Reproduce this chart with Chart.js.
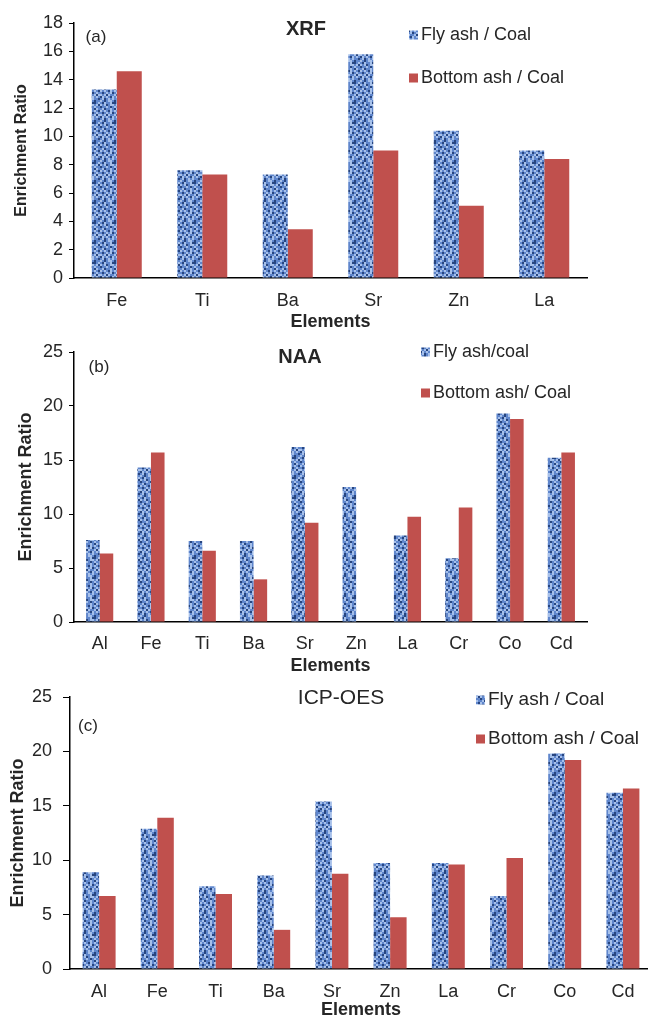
<!DOCTYPE html>
<html>
<head>
<meta charset="utf-8">
<script src="https://cdn.jsdelivr.net/npm/chart.js@4"></script>
<style>
  html, body { margin: 0; padding: 0; background: #fff; }
  body { width: 648px; height: 1016px; overflow: hidden; position: relative; }
  canvas { position: absolute; left: 0; }
</style>
</head>
<body>
<canvas id="xrf" width="648" height="340" style="top:0px"></canvas>
<canvas id="naa" width="648" height="350" style="top:335px"></canvas>
<canvas id="icp" width="660" height="360" style="top:672px"></canvas>
<script>
// --- data ---
const xrfElements = ['Fe', 'Ti', 'Ba', 'Sr', 'Zn', 'La'];
const xrfFly = [13.3, 7.6, 7.3, 15.8, 10.4, 9.0];
const xrfBottom = [14.6, 7.3, 3.45, 9.0, 5.1, 8.4];

const naaElements = ['Al', 'Fe', 'Ti', 'Ba', 'Sr', 'Zn', 'La', 'Cr', 'Co', 'Cd'];
const naaFly = [7.6, 14.3, 7.5, 7.5, 16.2, 12.5, 8.0, 5.9, 19.3, 15.2];
const naaBottom = [6.35, 15.7, 6.6, 3.95, 9.2, null, 9.75, 10.6, 18.8, 15.7];

const icpElements = ['Al', 'Fe', 'Ti', 'Ba', 'Sr', 'Zn', 'La', 'Cr', 'Co', 'Cd'];
const icpFly = [8.9, 12.9, 7.6, 8.6, 15.4, 9.75, 9.75, 6.7, 19.8, 16.2];
const icpBottom = [6.7, 13.9, 6.9, 3.6, 8.75, 4.75, 9.6, 10.2, 19.2, 16.6];

const xrfTicks = { max: 18, step: 2 };
const naaTicks = { max: 25, step: 5 };
const icpTicks = { max: 25, step: 5 };

const FONT = "'Liberation Sans', Arial, sans-serif";
const INK = '#262626';
const RED = '#c0504d';

// mottled blue fill for the fly ash bars (fixed tile, no randomness)
function flyPattern() {
  const rows = [
    '.-#-..-#--',
    '-#.--.##-.',
    '.-.#-..-.#',
    '#--.-#-.--',
    '-.#--.-#.-',
    '.-.-#.-.-#',
    '-#-.-.#-.-',
    '.-.#.--.#.',
    '#.-.-#.-.-',
    '-.#-.-.--#',
  ];
  const col = { '.': '#a6c0ea', '-': '#5f86cc', '#': '#27457f' };
  const c = document.createElement('canvas');
  c.width = 20; c.height = 20;
  const g = c.getContext('2d');
  rows.forEach((r, y) => {
    for (let x = 0; x < r.length; x++) {
      g.fillStyle = col[r[x]];
      g.fillRect(x * 2, y * 2, 2, 2);
    }
  });
  return g.createPattern(c, 'repeat');
}

// title, panel tag and legend drawn inside the plot area
const panelText = {
  id: 'panelText',
  afterDraw(chart, args, o) {
    const ctx = chart.ctx;
    ctx.save();
    ctx.fillStyle = INK;
    ctx.textBaseline = 'middle';
    ctx.textAlign = 'center';
    ctx.font = o.titleFont;
    ctx.fillText(o.title, o.titleX, o.titleY);
    ctx.font = o.tagFont;
    ctx.fillText(o.tag, o.tagX, o.tagY);
    ctx.textAlign = 'left';
    ctx.font = o.legendFont;
    chart.data.datasets.forEach((ds, i) => {
      const y = o.legendY[i];
      ctx.fillStyle = ds.backgroundColor;
      ctx.fillRect(o.legendX - o.box - 3, y - o.box / 2, o.box, o.box);
      ctx.fillStyle = INK;
      ctx.fillText(ds.label, o.legendX, y);
    });
    ctx.restore();
  }
};

function makeChart(id, g) {
  const canvas = document.getElementById(id);
  const top = g.canvasTop;
  const pattern = flyPattern();
  return new Chart(canvas, {
    type: 'bar',
    data: {
      labels: g.labels,
      datasets: [
        { label: g.legend[0], data: g.fly, backgroundColor: pattern,
          categoryPercentage: g.catPct, barPercentage: 1 },
        { label: g.legend[1], data: g.bottom, backgroundColor: RED,
          categoryPercentage: g.catPct, barPercentage: 1 },
      ],
    },
    options: {
      responsive: false,
      animation: false,
      layout: {
        padding: { left: 0, top: g.area.top - top, right: canvas.width - g.area.right, bottom: 0 },
      },
      plugins: {
        legend: { display: false },
        tooltip: { enabled: false },
        panelText: {
          title: g.title, titleFont: g.titleFont, titleX: g.titleX, titleY: g.titleY - top,
          tag: g.tag, tagFont: g.tagFont, tagX: g.tagX, tagY: g.tagY - top,
          legendFont: g.legendFont, legendX: g.legendX,
          legendY: g.legendY.map((v) => v - top), box: 9,
        },
      },
      scales: {
        x: {
          grid: { display: false, drawTicks: false },
          border: { color: '#000', width: 1.5 },
          ticks: { color: INK, padding: g.xPad, font: { family: FONT, size: 18 } },
          title: {
            display: true, text: 'Elements', color: INK,
            font: { family: FONT, size: 18, weight: 'bold' },
            padding: { top: 0, bottom: (top + canvas.height) - g.elementsY - 10.8 },
          },
          afterFit: (s) => { s.height = (top + canvas.height) - g.area.bottom; },
        },
        y: {
          min: 0, max: g.ticks.max,
          grid: { drawOnChartArea: false, drawTicks: true, tickLength: g.tickLen, color: '#000' },
          border: { color: '#000', width: 1.5 },
          ticks: { stepSize: g.ticks.step, color: INK, padding: g.yPad, font: { family: FONT, size: 18 } },
          title: {
            display: true, text: 'Enrichment Ratio', color: INK,
            font: { family: FONT, size: g.yTitleSize, weight: 'bold' },
            padding: { top: g.yTitleX - g.yTitleSize * 0.6, bottom: 0 },
          },
          afterFit: (s) => { s.width = g.area.left; },
        },
      },
    },
    plugins: [panelText],
  });
}

makeChart('xrf', {
  canvasTop: 0, area: { left: 74, right: 587, top: 23, bottom: 278 },
  labels: xrfElements, fly: xrfFly, bottom: xrfBottom, ticks: xrfTicks,
  legend: ['Fly ash / Coal', 'Bottom ash / Coal'], catPct: 0.585,
  title: 'XRF', titleFont: 'bold 20px ' + FONT, titleX: 306, titleY: 29,
  tag: '(a)', tagFont: '17px ' + FONT, tagX: 96, tagY: 37,
  legendFont: '18px ' + FONT, legendX: 421, legendY: [35, 78],
  xPad: 12, elementsY: 322, tickLen: 5, yPad: 6, yTitleSize: 16, yTitleX: 22,
});

makeChart('naa', {
  canvasTop: 335, area: { left: 74, right: 587, top: 352, bottom: 622 },
  labels: naaElements, fly: naaFly, bottom: naaBottom, ticks: naaTicks,
  legend: ['Fly ash/coal', 'Bottom ash/ Coal'], catPct: 0.53,
  title: 'NAA', titleFont: 'bold 20px ' + FONT, titleX: 300, titleY: 357,
  tag: '(b)', tagFont: '17px ' + FONT, tagX: 99, tagY: 367,
  legendFont: '18px ' + FONT, legendX: 433, legendY: [352, 393],
  xPad: 11, elementsY: 666, tickLen: 5, yPad: 6, yTitleSize: 18, yTitleX: 26,
});

makeChart('icp', {
  canvasTop: 672, area: { left: 70, right: 652, top: 697, bottom: 969 },
  labels: icpElements, fly: icpFly, bottom: icpBottom, ticks: icpTicks,
  legend: ['Fly ash / Coal', 'Bottom ash / Coal'], catPct: 0.567,
  title: 'ICP-OES', titleFont: '21px ' + FONT, titleX: 341, titleY: 698,
  tag: '(c)', tagFont: '17px ' + FONT, tagX: 88, tagY: 726,
  legendFont: '19px ' + FONT, legendX: 488, legendY: [700, 739],
  xPad: 12, elementsY: 1010, tickLen: 7, yPad: 11, yTitleSize: 18, yTitleX: 18,
});
</script>
</body>
</html>
